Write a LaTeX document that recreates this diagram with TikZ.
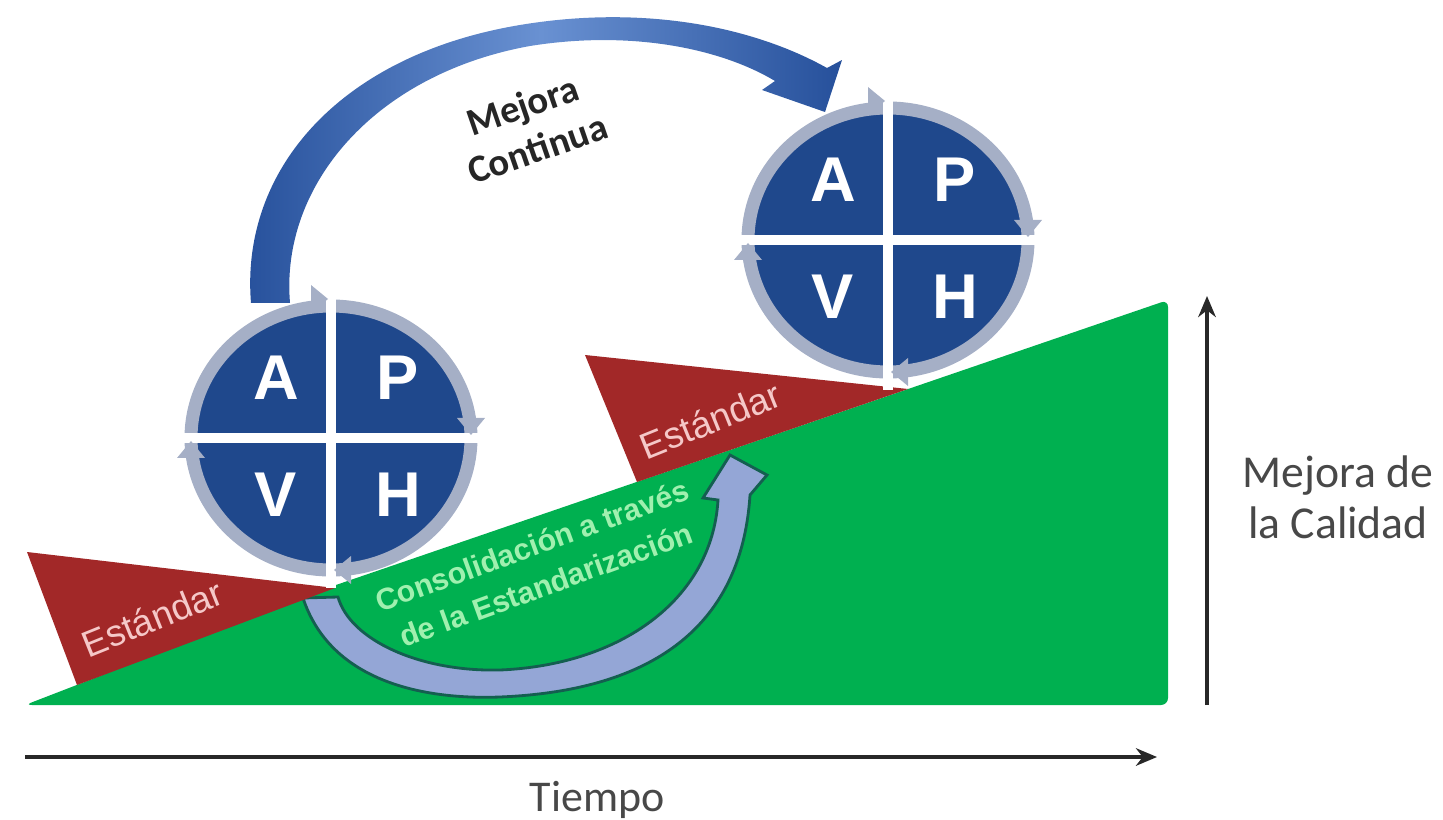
\documentclass[tikz,border=0pt]{standalone}
\usepackage{fontspec}
\setmainfont{Carlito}
\newfontfamily\arialfont{Liberation Sans}
\usepackage{xcolor}
\usepackage{tikz}
\usetikzlibrary{arrows.meta}

\definecolor{pdcablue}{RGB}{31,72,140}
\definecolor{ringgray}{RGB}{165,175,198}
\definecolor{stdred}{RGB}{162,40,40}
\definecolor{qgreen}{RGB}{0,176,80}
\definecolor{arrowdark}{RGB}{38,80,155}
\definecolor{arrowlight}{RGB}{105,145,210}
\definecolor{consblue}{RGB}{148,166,214}
\definecolor{consedge}{RGB}{20,95,80}
\definecolor{constext}{RGB}{160,240,175}
\definecolor{stdtext}{RGB}{245,200,200}
\definecolor{axisgray}{RGB}{40,40,40}

\tikzset{
  pdcaletter/.style={font={\arialfont\bfseries\fontsize{18}{18}\selectfont}, text=white, inner sep=0pt},
  ringarc/.style={draw=ringgray, line width=3.7pt},
  ringtip/.style={fill=ringgray},
  crossbar/.style={fill=white},
  stdlabel/.style={font={\arialfont\fontsize{10.5}{12}\selectfont}, text=stdtext, rotate=22, inner sep=0pt},
  axis/.style={axisgray, line width=1pt, -{Stealth[length=6pt,width=5pt]}},
  axislabel/.style={font=\fontsize{13}{14.5}\selectfont, text=axisgray!85!white, align=center}
}

\begin{document}
\begin{tikzpicture}[x=0.1mm, y=-0.1mm]
  \useasboundingbox (0,0) rectangle (1443,820);
  % green ramp
  \fill[qgreen, rounded corners=2pt] (25,705) -- (333,586) -- (1168,300) -- (1168,705) -- cycle;
  % consolidation arc
  \fill[consblue, draw=consedge, line width=0.8pt] (303,598) .. controls (330,680) and (420,700) .. (500,697)
    .. controls (620,692) and (740,650) .. (750,495) -- (767,475) -- (730,455) -- (703,498) -- (718,500)
    .. controls (712,600) and (620,665) .. (500,670) .. controls (420,672) and (350,640) .. (338,597) -- cycle;
  \node[font={\arialfont\bfseries\fontsize{8.6}{11.8}\selectfont}, text=constext, rotate=20, align=center, inner sep=0pt] (cons) at (539,565) {Consolidación a través\\de la Estandarización};
  % standard wedges
  \fill[stdred] (27,552) -- (335,588) -- (77,685) -- cycle;
  \fill[stdred] (585,355) -- (908,389) -- (637,482) -- cycle;
  \node[stdlabel] (std1) at (152,618) {Estándar};
  \node[stdlabel] (std2) at (710,420) {Estándar};
  % first cycle
  \begin{scope}[shift={(331,438)}]
    \fill[pdcablue] (0,0) ellipse [x radius=134, y radius=127];
    \draw[ringarc] (0,0) ellipse [x radius=140, y radius=132];
    \fill[crossbar] (-5,-150) rectangle (5,150);
    \fill[crossbar] (-152,-5) rectangle (154,5);
    \fill[ringtip] (-3,-139) -- (-20,-153) -- (-20,-125) -- cycle;
    \fill[ringtip] (140,-3) -- (126,-20) -- (154,-20) -- cycle;
    \fill[ringtip] (3,132) -- (20,118) -- (20,146) -- cycle;
    \fill[ringtip] (-140,3) -- (-154,20) -- (-126,20) -- cycle;
    \node[pdcaletter] (A1) at (-55,-60) {A};
    \node[pdcaletter] (P1) at (67,-60) {P};
    \node[pdcaletter] (V1) at (-55,57) {V};
    \node[pdcaletter] (H1) at (67,57) {H};
  \end{scope}
  % second cycle
  \begin{scope}[shift={(888,240)}]
    \fill[pdcablue] (0,0) ellipse [x radius=134, y radius=127];
    \draw[ringarc] (0,0) ellipse [x radius=140, y radius=132];
    \fill[crossbar] (-5,-150) rectangle (5,150);
    \fill[crossbar] (-152,-5) rectangle (154,5);
    \fill[ringtip] (-3,-139) -- (-20,-153) -- (-20,-125) -- cycle;
    \fill[ringtip] (140,-3) -- (126,-20) -- (154,-20) -- cycle;
    \fill[ringtip] (3,132) -- (20,118) -- (20,146) -- cycle;
    \fill[ringtip] (-140,3) -- (-154,20) -- (-126,20) -- cycle;
    \node[pdcaletter] (A2) at (-55,-60) {A};
    \node[pdcaletter] (P2) at (67,-60) {P};
    \node[pdcaletter] (V2) at (-55,57) {V};
    \node[pdcaletter] (H2) at (67,57) {H};
  \end{scope}
  % continuous improvement arrow
  \path[left color=arrowdark, right color=arrowdark, middle color=arrowlight]
    (251,303) .. controls (240,170) and (340,55) .. (520,25) .. controls (640,5) and (750,25) .. (827,68)
    -- (842,60) -- (825,112) -- (762,90) -- (775,81)
    .. controls (720,48) and (630,30) .. (530,46) .. controls (375,74) and (280,185) .. (290,303) -- cycle;
  \node[font=\bfseries\fontsize{11}{13}\selectfont, text=black!85, rotate=19, align=center, inner sep=0pt] (mejora) at (530,127) {Mejora\\Continua};
  % axes
  \coordinate (t0) at (25,757);
  \coordinate (t1) at (1157,757);
  \coordinate (q0) at (1207,705);
  \coordinate (q1) at (1207,296);
  \draw[axis] (t0) -- (t1);
  \draw[axis] (q0) -- (q1);
  \node[axislabel, font=\fontsize{12.5}{14}\selectfont] (tiempo) at (597,800) {Tiempo};
  \node[axislabel] (calidad) at (1338,497) {Mejora de\\la Calidad};
\end{tikzpicture}
\end{document}
